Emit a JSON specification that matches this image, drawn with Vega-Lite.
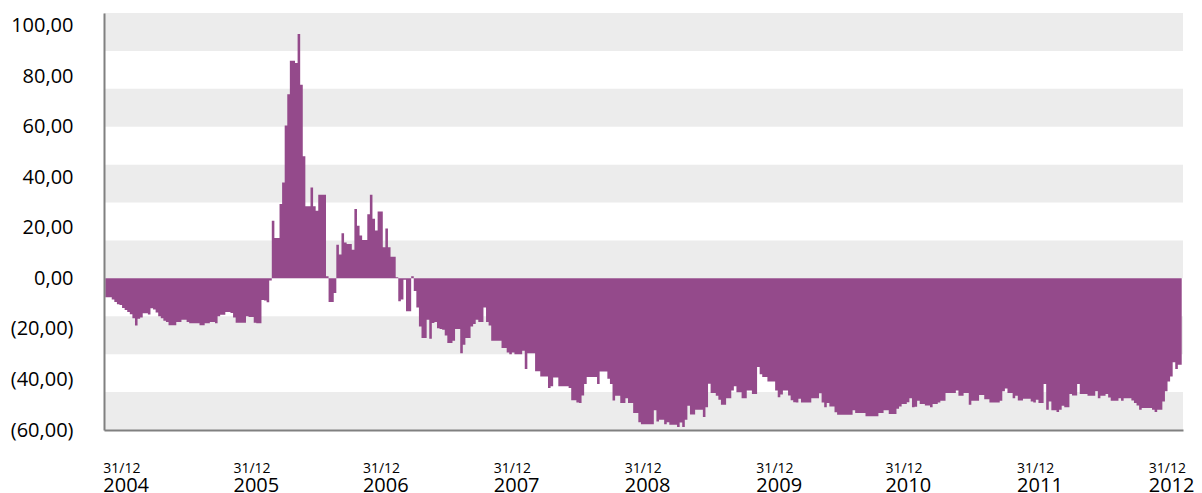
{
"$schema": "https://vega.github.io/schema/vega-lite/v6.json",
"width": 1079,
"height": 417,
"autosize": "none",
"padding": {"left": 104, "top": 13, "right": 19, "bottom": 63},
"background": "#ffffff",
"config": {"view": {"stroke": null}, "font": "Open Sans",
"axisY": {"title": null, "grid": false, "ticks": false, "tickSize": 0, "domainColor": "#808080", "domainWidth": 2,
"values": [-60, -40, -20, 0, 20, 40, 60, 80, 100],
"labelExpr": "datum.value < 0 ? '(' + replace(format(-datum.value, '.2f'), '.', ',') + ')' : replace(format(datum.value, '.2f'), '.', ',')",
"labelPadding": 31, "labelFontSize": 20, "labelFont": "Open Sans", "labelColor": "#000000", "labelOverlap": false}},
"datasets": {
"bands": [{"lo": 90, "hi": 105}, {"lo": 60, "hi": 75}, {"lo": 30, "hi": 45}, {"lo": 0, "hi": 15}, {"lo": -30, "hi": -15}, {"lo": -60, "hi": -45}],
"series": [
{"date":"2004-12-31","value":-7.5},
{"date":"2005-01-07","value":-7.5},{"date":"2005-01-14","value":-7.5},{"date":"2005-01-21","value":-8.4},{"date":"2005-01-28","value":-9.4},
{"date":"2005-02-04","value":-10.2},{"date":"2005-02-11","value":-10.5},{"date":"2005-02-18","value":-11.7},{"date":"2005-02-25","value":-12.5},
{"date":"2005-03-04","value":-13.3},{"date":"2005-03-11","value":-14.2},{"date":"2005-03-18","value":-15.8},{"date":"2005-03-25","value":-18.7},
{"date":"2005-04-01","value":-16.0},{"date":"2005-04-08","value":-15.5},{"date":"2005-04-15","value":-13.8},{"date":"2005-04-22","value":-13.8},{"date":"2005-04-29","value":-14.3},
{"date":"2005-05-06","value":-11.8},{"date":"2005-05-13","value":-12.3},{"date":"2005-05-20","value":-13.5},{"date":"2005-05-27","value":-15.0},
{"date":"2005-06-03","value":-15.8},{"date":"2005-06-10","value":-16.8},{"date":"2005-06-17","value":-17.3},{"date":"2005-06-24","value":-18.6},
{"date":"2005-07-01","value":-18.6},{"date":"2005-07-08","value":-18.6},{"date":"2005-07-15","value":-17.3},{"date":"2005-07-22","value":-17.3},{"date":"2005-07-29","value":-16.4},
{"date":"2005-08-05","value":-16.4},{"date":"2005-08-12","value":-17.3},{"date":"2005-08-19","value":-17.8},{"date":"2005-08-26","value":-17.8},
{"date":"2005-09-02","value":-17.8},{"date":"2005-09-09","value":-17.8},{"date":"2005-09-16","value":-18.6},{"date":"2005-09-23","value":-18.6},{"date":"2005-09-30","value":-17.8},
{"date":"2005-10-07","value":-17.8},{"date":"2005-10-14","value":-17.3},{"date":"2005-10-21","value":-17.3},{"date":"2005-10-28","value":-17.8},
{"date":"2005-11-04","value":-15.0},{"date":"2005-11-11","value":-14.4},{"date":"2005-11-18","value":-14.4},{"date":"2005-11-25","value":-13.3},
{"date":"2005-12-02","value":-13.3},{"date":"2005-12-09","value":-13.7},{"date":"2005-12-16","value":-15.5},{"date":"2005-12-23","value":-17.6},{"date":"2005-12-30","value":-17.6},
{"date":"2006-01-06","value":-17.6},{"date":"2006-01-13","value":-17.6},{"date":"2006-01-20","value":-15.0},{"date":"2006-01-27","value":-15.3},
{"date":"2006-02-03","value":-15.3},{"date":"2006-02-10","value":-17.6},{"date":"2006-02-17","value":-17.8},{"date":"2006-02-24","value":-17.8},
{"date":"2006-03-03","value":-8.6},{"date":"2006-03-10","value":-8.8},{"date":"2006-03-17","value":-9.5},{"date":"2006-03-24","value":-0.8},{"date":"2006-03-31","value":22.8},
{"date":"2006-04-07","value":16},{"date":"2006-04-14","value":16},{"date":"2006-04-21","value":29.4},{"date":"2006-04-28","value":37.9},
{"date":"2006-05-05","value":60.5},{"date":"2006-05-12","value":72.9},{"date":"2006-05-19","value":86.1},{"date":"2006-05-26","value":86.1},
{"date":"2006-06-02","value":85.2},{"date":"2006-06-09","value":96.7},{"date":"2006-06-16","value":76.6},{"date":"2006-06-23","value":48.3},{"date":"2006-06-30","value":28.5},
{"date":"2006-07-07","value":28.5},{"date":"2006-07-14","value":36},{"date":"2006-07-21","value":28.5},{"date":"2006-07-28","value":26.8},
{"date":"2006-08-04","value":33.1},{"date":"2006-08-11","value":33.1},{"date":"2006-08-18","value":33.1},{"date":"2006-08-25","value":0.8},
{"date":"2006-09-01","value":-9.4},{"date":"2006-09-08","value":-9.4},{"date":"2006-09-15","value":-5.8},{"date":"2006-09-22","value":13.3},{"date":"2006-09-29","value":9.4},
{"date":"2006-10-06","value":17.9},{"date":"2006-10-13","value":14.2},{"date":"2006-10-20","value":13.6},{"date":"2006-10-27","value":13.6},
{"date":"2006-11-03","value":11.3},{"date":"2006-11-10","value":27.4},{"date":"2006-11-17","value":20.8},{"date":"2006-11-24","value":17},
{"date":"2006-12-01","value":15.2},{"date":"2006-12-08","value":15.2},{"date":"2006-12-15","value":25.4},{"date":"2006-12-22","value":33.1},{"date":"2006-12-29","value":23.6},
{"date":"2007-01-05","value":18.9},{"date":"2007-01-12","value":26.5},{"date":"2007-01-19","value":26.5},{"date":"2007-01-26","value":12.3},
{"date":"2007-02-02","value":19.7},{"date":"2007-02-09","value":12.3},{"date":"2007-02-16","value":8.6},{"date":"2007-02-23","value":8.6},
{"date":"2007-03-02","value":0.4},{"date":"2007-03-09","value":-9.1},{"date":"2007-03-16","value":-8.4},{"date":"2007-03-23","value":-0.5},{"date":"2007-03-30","value":-13},
{"date":"2007-04-06","value":-13},{"date":"2007-04-13","value":0.8},{"date":"2007-04-20","value":-5},{"date":"2007-04-27","value":-11.5},
{"date":"2007-05-04","value":-19},{"date":"2007-05-11","value":-23.6},{"date":"2007-05-18","value":-23.6},{"date":"2007-05-25","value":-16.4},
{"date":"2007-06-01","value":-23.9},{"date":"2007-06-08","value":-17.7},{"date":"2007-06-15","value":-17.3},{"date":"2007-06-22","value":-19.7},{"date":"2007-06-29","value":-20},
{"date":"2007-07-06","value":-20.3},{"date":"2007-07-13","value":-22.6},{"date":"2007-07-20","value":-25.6},{"date":"2007-07-27","value":-25.6},
{"date":"2007-08-03","value":-24.7},{"date":"2007-08-10","value":-20},{"date":"2007-08-17","value":-20},{"date":"2007-08-24","value":-29.6},{"date":"2007-08-31","value":-26.3},
{"date":"2007-09-07","value":-23.6},{"date":"2007-09-14","value":-23.6},{"date":"2007-09-21","value":-19},{"date":"2007-09-28","value":-18.1},
{"date":"2007-10-05","value":-16.4},{"date":"2007-10-12","value":-17.3},{"date":"2007-10-19","value":-17.3},{"date":"2007-10-26","value":-11.5},
{"date":"2007-11-02","value":-17.3},{"date":"2007-11-09","value":-18.7},{"date":"2007-11-16","value":-24.7},{"date":"2007-11-23","value":-24.7},{"date":"2007-11-30","value":-24.7},
{"date":"2007-12-07","value":-24.7},{"date":"2007-12-14","value":-27.6},{"date":"2007-12-21","value":-27.6},{"date":"2007-12-28","value":-29.3},
{"date":"2008-01-04","value":-30},{"date":"2008-01-11","value":-29.3},{"date":"2008-01-18","value":-30},{"date":"2008-01-25","value":-30},
{"date":"2008-02-01","value":-30},{"date":"2008-02-08","value":-28.6},{"date":"2008-02-15","value":-35.9},{"date":"2008-02-22","value":-29.6},{"date":"2008-02-29","value":-29.6},
{"date":"2008-03-07","value":-29.6},{"date":"2008-03-14","value":-36.8},{"date":"2008-03-21","value":-36.8},{"date":"2008-03-28","value":-38.8},
{"date":"2008-04-04","value":-38.8},{"date":"2008-04-11","value":-38.8},{"date":"2008-04-18","value":-43.4},{"date":"2008-04-25","value":-42.7},
{"date":"2008-05-02","value":-39.2},{"date":"2008-05-09","value":-39.2},{"date":"2008-05-16","value":-42.7},{"date":"2008-05-23","value":-42.7},{"date":"2008-05-30","value":-42.7},
{"date":"2008-06-06","value":-42.7},{"date":"2008-06-13","value":-43.4},{"date":"2008-06-20","value":-48.2},{"date":"2008-06-27","value":-48.2},
{"date":"2008-07-04","value":-49.1},{"date":"2008-07-11","value":-49.3},{"date":"2008-07-18","value":-46.3},{"date":"2008-07-25","value":-41.8},
{"date":"2008-08-01","value":-39},{"date":"2008-08-08","value":-39},{"date":"2008-08-15","value":-39},{"date":"2008-08-22","value":-39},{"date":"2008-08-29","value":-41.8},
{"date":"2008-09-05","value":-36.9},{"date":"2008-09-12","value":-36.9},{"date":"2008-09-19","value":-36.9},{"date":"2008-09-26","value":-39.7},
{"date":"2008-10-03","value":-41.8},{"date":"2008-10-10","value":-48.3},{"date":"2008-10-17","value":-46.4},{"date":"2008-10-24","value":-46.4},{"date":"2008-10-31","value":-49.3},
{"date":"2008-11-07","value":-49.3},{"date":"2008-11-14","value":-47.4},{"date":"2008-11-21","value":-49.3},{"date":"2008-11-28","value":-49.3},
{"date":"2008-12-05","value":-53.3},{"date":"2008-12-12","value":-53.3},{"date":"2008-12-19","value":-56.9},{"date":"2008-12-26","value":-57.7},
{"date":"2009-01-02","value":-57.7},{"date":"2009-01-09","value":-57.7},{"date":"2009-01-16","value":-57.7},{"date":"2009-01-23","value":-57.7},{"date":"2009-01-30","value":-52.2},
{"date":"2009-02-06","value":-56.6},{"date":"2009-02-13","value":-55.9},{"date":"2009-02-20","value":-55.9},{"date":"2009-02-27","value":-57.7},
{"date":"2009-03-06","value":-56.9},{"date":"2009-03-13","value":-57.9},{"date":"2009-03-20","value":-57.9},{"date":"2009-03-27","value":-57.9},
{"date":"2009-04-03","value":-58.8},{"date":"2009-04-10","value":-57},{"date":"2009-04-17","value":-58.8},{"date":"2009-04-24","value":-55.9},
{"date":"2009-05-01","value":-50.4},{"date":"2009-05-08","value":-53.9},{"date":"2009-05-15","value":-53.9},{"date":"2009-05-22","value":-52},{"date":"2009-05-29","value":-52},
{"date":"2009-06-05","value":-52},{"date":"2009-06-12","value":-54.9},{"date":"2009-06-19","value":-51},{"date":"2009-06-26","value":-41.7},
{"date":"2009-07-03","value":-45.4},{"date":"2009-07-10","value":-45.4},{"date":"2009-07-17","value":-46.4},{"date":"2009-07-24","value":-48},{"date":"2009-07-31","value":-50},
{"date":"2009-08-07","value":-50},{"date":"2009-08-14","value":-47.4},{"date":"2009-08-21","value":-47.4},{"date":"2009-08-28","value":-44.4},
{"date":"2009-09-04","value":-42.7},{"date":"2009-09-11","value":-45.1},{"date":"2009-09-18","value":-45.1},{"date":"2009-09-25","value":-47.4},
{"date":"2009-10-02","value":-47.4},{"date":"2009-10-09","value":-44.4},{"date":"2009-10-16","value":-44.4},{"date":"2009-10-23","value":-45.8},{"date":"2009-10-30","value":-45.8},
{"date":"2009-11-06","value":-35.1},{"date":"2009-11-13","value":-37.9},{"date":"2009-11-20","value":-39},{"date":"2009-11-27","value":-39},
{"date":"2009-12-04","value":-40.8},{"date":"2009-12-11","value":-40.8},{"date":"2009-12-18","value":-40.8},{"date":"2009-12-25","value":-44.4},
{"date":"2010-01-01","value":-47},{"date":"2010-01-08","value":-46},{"date":"2010-01-15","value":-44.4},{"date":"2010-01-22","value":-44.4},{"date":"2010-01-29","value":-46.3},
{"date":"2010-02-05","value":-48.2},{"date":"2010-02-12","value":-49},{"date":"2010-02-19","value":-49.1},{"date":"2010-02-26","value":-47.6},
{"date":"2010-03-05","value":-49.1},{"date":"2010-03-12","value":-49.1},{"date":"2010-03-19","value":-49.1},{"date":"2010-03-26","value":-49.1},
{"date":"2010-04-02","value":-47.4},{"date":"2010-04-09","value":-47.4},{"date":"2010-04-16","value":-47.4},{"date":"2010-04-23","value":-45.5},{"date":"2010-04-30","value":-49.1},
{"date":"2010-05-07","value":-51},{"date":"2010-05-14","value":-49.3},{"date":"2010-05-21","value":-50.7},{"date":"2010-05-28","value":-50.7},
{"date":"2010-06-04","value":-53},{"date":"2010-06-11","value":-54},{"date":"2010-06-18","value":-54},{"date":"2010-06-25","value":-54},
{"date":"2010-07-02","value":-54},{"date":"2010-07-09","value":-54},{"date":"2010-07-16","value":-54},{"date":"2010-07-23","value":-52.2},{"date":"2010-07-30","value":-53.3},
{"date":"2010-08-06","value":-53.3},{"date":"2010-08-13","value":-53.3},{"date":"2010-08-20","value":-53.3},{"date":"2010-08-27","value":-54.6},
{"date":"2010-09-03","value":-54.6},{"date":"2010-09-10","value":-54.6},{"date":"2010-09-17","value":-54.6},{"date":"2010-09-24","value":-54.6},
{"date":"2010-10-01","value":-53.3},{"date":"2010-10-08","value":-53.3},{"date":"2010-10-15","value":-52.2},{"date":"2010-10-22","value":-52.2},{"date":"2010-10-29","value":-53.7},
{"date":"2010-11-05","value":-53.7},{"date":"2010-11-12","value":-53.7},{"date":"2010-11-19","value":-51.6},{"date":"2010-11-26","value":-50.7},
{"date":"2010-12-03","value":-49.7},{"date":"2010-12-10","value":-49.7},{"date":"2010-12-17","value":-49},{"date":"2010-12-24","value":-47.4},{"date":"2010-12-31","value":-51},
{"date":"2011-01-07","value":-50.8},{"date":"2011-01-14","value":-48.4},{"date":"2011-01-21","value":-49.7},{"date":"2011-01-28","value":-49.7},
{"date":"2011-02-04","value":-50.3},{"date":"2011-02-11","value":-50.3},{"date":"2011-02-18","value":-51},{"date":"2011-02-25","value":-49.7},
{"date":"2011-03-04","value":-49.7},{"date":"2011-03-11","value":-49.1},{"date":"2011-03-18","value":-48.4},{"date":"2011-03-25","value":-48.4},
{"date":"2011-04-01","value":-45.4},{"date":"2011-04-08","value":-45.4},{"date":"2011-04-15","value":-45.4},{"date":"2011-04-22","value":-45.4},{"date":"2011-04-29","value":-44.4},
{"date":"2011-05-06","value":-46.4},{"date":"2011-05-13","value":-46.4},{"date":"2011-05-20","value":-45.4},{"date":"2011-05-27","value":-45.4},
{"date":"2011-06-03","value":-50},{"date":"2011-06-10","value":-48.4},{"date":"2011-06-17","value":-48.4},{"date":"2011-06-24","value":-48.4},
{"date":"2011-07-01","value":-46.2},{"date":"2011-07-08","value":-46.2},{"date":"2011-07-15","value":-47.8},{"date":"2011-07-22","value":-47.8},{"date":"2011-07-29","value":-49.1},
{"date":"2011-08-05","value":-49.1},{"date":"2011-08-12","value":-49.1},{"date":"2011-08-19","value":-49.1},{"date":"2011-08-26","value":-48.4},
{"date":"2011-09-02","value":-44.7},{"date":"2011-09-09","value":-43.6},{"date":"2011-09-16","value":-45.4},{"date":"2011-09-23","value":-45.4},{"date":"2011-09-30","value":-47.4},
{"date":"2011-10-07","value":-46.4},{"date":"2011-10-14","value":-48.3},{"date":"2011-10-21","value":-48.3},{"date":"2011-10-28","value":-47.6},
{"date":"2011-11-04","value":-47.6},{"date":"2011-11-11","value":-47.6},{"date":"2011-11-18","value":-48.7},{"date":"2011-11-25","value":-49.1},
{"date":"2011-12-02","value":-48},{"date":"2011-12-09","value":-49.3},{"date":"2011-12-16","value":-49.3},{"date":"2011-12-23","value":-41.8},{"date":"2011-12-30","value":-52},
{"date":"2012-01-06","value":-48.7},{"date":"2012-01-13","value":-52.2},{"date":"2012-01-20","value":-52.2},{"date":"2012-01-27","value":-52.9},
{"date":"2012-02-03","value":-52},{"date":"2012-02-10","value":-50.4},{"date":"2012-02-17","value":-51},{"date":"2012-02-24","value":-51},
{"date":"2012-03-02","value":-45.8},{"date":"2012-03-09","value":-46.3},{"date":"2012-03-16","value":-46.3},{"date":"2012-03-23","value":-41.8},{"date":"2012-03-30","value":-45.8},
{"date":"2012-04-06","value":-45.8},{"date":"2012-04-13","value":-45.8},{"date":"2012-04-20","value":-46.4},{"date":"2012-04-27","value":-46.4},
{"date":"2012-05-04","value":-46.4},{"date":"2012-05-11","value":-44.7},{"date":"2012-05-18","value":-47.4},{"date":"2012-05-25","value":-46.4},
{"date":"2012-06-01","value":-46.4},{"date":"2012-06-08","value":-45.8},{"date":"2012-06-15","value":-47.1},{"date":"2012-06-22","value":-48.4},{"date":"2012-06-29","value":-48.4},
{"date":"2012-07-06","value":-48.4},{"date":"2012-07-13","value":-47.4},{"date":"2012-07-20","value":-48.4},{"date":"2012-07-27","value":-47.4},
{"date":"2012-08-03","value":-47.4},{"date":"2012-08-10","value":-47.4},{"date":"2012-08-17","value":-48.3},{"date":"2012-08-24","value":-49.3},{"date":"2012-08-31","value":-50.3},
{"date":"2012-09-07","value":-52},{"date":"2012-09-14","value":-51.3},{"date":"2012-09-21","value":-51.3},{"date":"2012-09-28","value":-51.3},
{"date":"2012-10-05","value":-51.3},{"date":"2012-10-12","value":-52},{"date":"2012-10-19","value":-52.9},{"date":"2012-10-26","value":-52},
{"date":"2012-11-02","value":-52},{"date":"2012-11-09","value":-48.7},{"date":"2012-11-16","value":-44.7},{"date":"2012-11-23","value":-40.8},{"date":"2012-11-30","value":-38.8},
{"date":"2012-12-07","value":-33.2},{"date":"2012-12-14","value":-35.9},{"date":"2012-12-21","value":-34.2},{"date":"2012-12-28","value":-34.2}
]
},
"layer": [
{
"data": {"name": "bands"},
"mark": {"type": "rect", "color": "#ececec"},
"encoding": {
"y": {"field": "lo", "type": "quantitative", "scale": {"domain": [-60, 105], "nice": false, "zero": false}, "axis": {"zindex": 1}},
"y2": {"field": "hi"}
}
},
{
"data": {"name": "series"},
"mark": {"type": "area", "interpolate": "step", "color": "#944a8b", "opacity": 1},
"encoding": {
"x": {"field": "date", "type": "temporal",
"scale": {"type": "utc", "padding": 0, "domain": [{"year": 2004, "month": 12, "date": 27, "hours": 12, "utc": true}, {"year": 2012, "month": 12, "date": 31, "hours": 12, "utc": true}]},
"axis": {"orient": "bottom", "title": null, "grid": false, "ticks": false, "tickSize": 0, "domain": true, "domainColor": "#808080", "domainWidth": 2, "zindex": 1,
"values": [{"year": 2004, "month": 12, "date": 31, "utc": true}, {"year": 2005, "month": 12, "date": 19, "utc": true}, {"year": 2006, "month": 12, "date": 5, "utc": true}, {"year": 2007, "month": 11, "date": 25, "utc": true}, {"year": 2008, "month": 11, "date": 14, "utc": true}, {"year": 2009, "month": 11, "date": 6, "utc": true}, {"year": 2010, "month": 10, "date": 22, "utc": true}, {"year": 2011, "month": 10, "date": 14, "utc": true}, {"year": 2012, "month": 10, "date": 5, "utc": true}],
"labelExpr": "utcFormat(datum.value, '%Y')", "labelAlign": "left", "labelBaseline": "alphabetic", "labelPadding": 61, "labelOffset": -2.5,
"labelFontSize": 20, "labelFont": "Open Sans", "labelColor": "#000000", "labelFlush": false, "labelOverlap": false, "labelBound": false}
},
"y": {"field": "value", "type": "quantitative", "scale": {"domain": [-60, 105], "nice": false, "zero": false}, "axis": {"zindex": 1}},
"y2": {"datum": 0}
}
},
{
"data": {"name": "series"},
"mark": {"type": "bar", "opacity": 0, "size": 2.58},
"encoding": {
"x": {"field": "date", "type": "temporal",
"axis": {"orient": "bottom", "title": null, "grid": false, "ticks": false, "tickSize": 0, "domain": false, "zindex": 1,
"values": [{"year": 2004, "month": 12, "date": 31, "utc": true}, {"year": 2005, "month": 12, "date": 19, "utc": true}, {"year": 2006, "month": 12, "date": 5, "utc": true}, {"year": 2007, "month": 11, "date": 25, "utc": true}, {"year": 2008, "month": 11, "date": 14, "utc": true}, {"year": 2009, "month": 11, "date": 6, "utc": true}, {"year": 2010, "month": 10, "date": 22, "utc": true}, {"year": 2011, "month": 10, "date": 14, "utc": true}, {"year": 2012, "month": 10, "date": 5, "utc": true}],
"labelExpr": "'31/12'", "labelAlign": "left", "labelBaseline": "alphabetic", "labelPadding": 42, "labelOffset": -2.5,
"labelFontSize": 14, "labelFont": "Open Sans", "labelColor": "#000000", "labelFlush": false, "labelOverlap": false, "labelBound": false}
},
"y": {"field": "value", "type": "quantitative", "axis": {"zindex": 1}},
"y2": {"datum": 0}
}
}
],
"resolve": {"axis": {"x": "independent"}}
}
